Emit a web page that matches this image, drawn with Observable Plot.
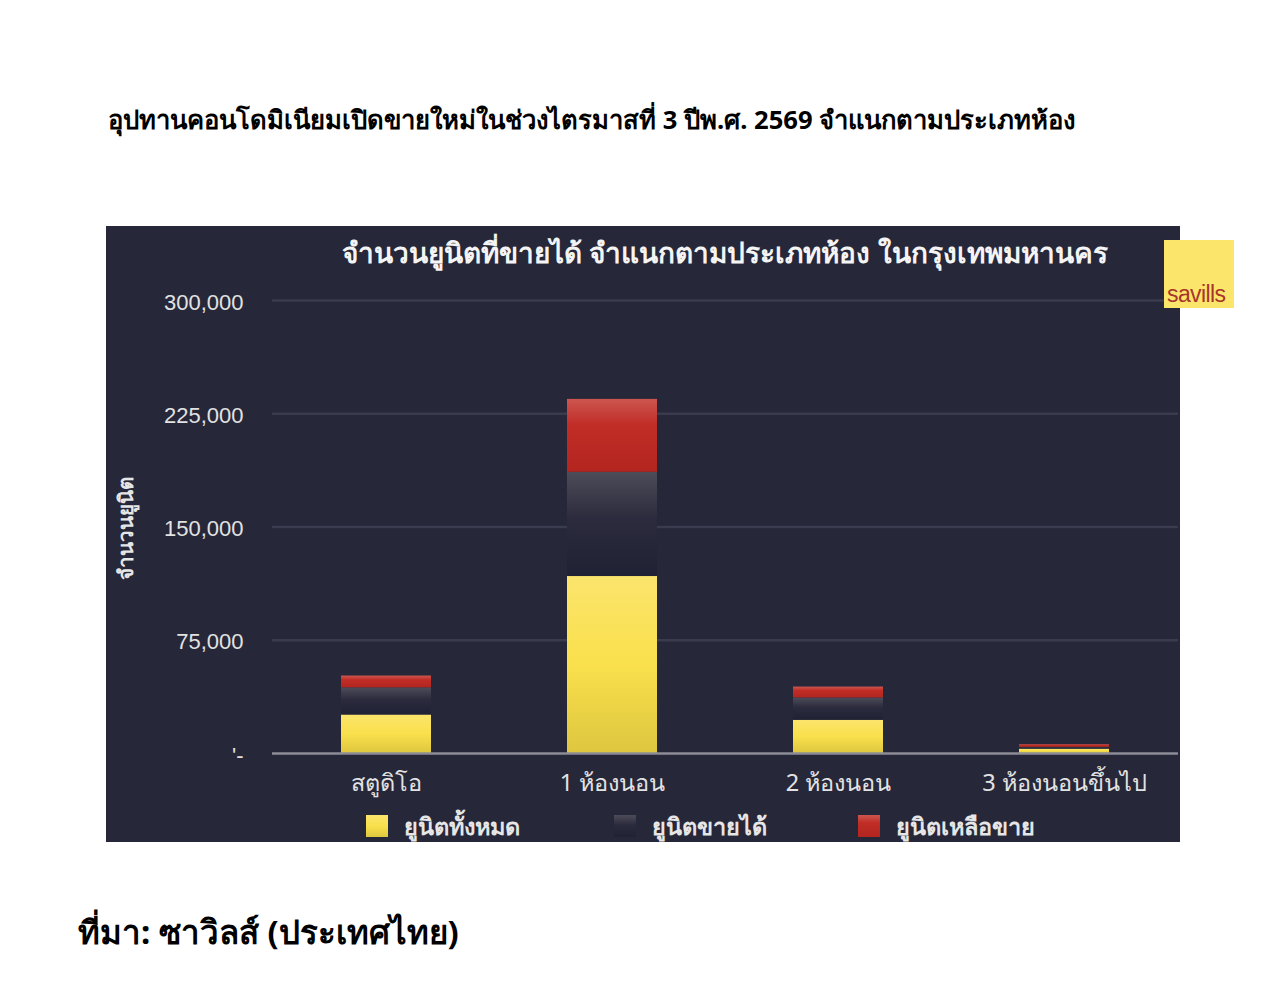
<!DOCTYPE html>
<html>
<head>
<meta charset="utf-8">
<script src="https://cdn.jsdelivr.net/npm/d3@7"></script>
<script src="https://cdn.jsdelivr.net/npm/@observablehq/plot@0.6"></script>
<style>
  html, body { margin: 0; padding: 0; background: #ffffff; }
  body { width: 1284px; height: 996px; position: relative; overflow: hidden; font-family: "Noto Sans", "DejaVu Sans", sans-serif; }
  #title { position: absolute; left: 108px; top: 100px; font-size: 25.6px; font-weight: 700; color: #000; white-space: nowrap; }
  #panel { position: absolute; left: 106px; top: 226px; width: 1074px; height: 616px; background: #262739; }
  #subtitle { position: absolute; left: 225px; width: 1000px; top: 231px; text-align: center; font-size: 28px; font-weight: 700; color: #f4f4f4; white-space: nowrap; }
  #ylabel { position: absolute; left: 125px; top: 528px; transform: translate(-50%, -50%) rotate(-90deg); font-size: 20.5px; font-weight: 700; color: #e6e6e6; white-space: nowrap; }
  .leg { position: absolute; top: 812px; height: 28px; display: flex; align-items: center; font-size: 23.5px; font-weight: 700; color: #e6e6e6; white-space: nowrap; }
  .sw { width: 22px; height: 22px; margin-right: 16px; }
  #logo { position: absolute; left: 1164px; top: 240px; width: 70px; height: 68px; background: #fbe66b; }
  #logo span { position: absolute; left: 3px; bottom: 0px; font-family: "Liberation Sans", Arial, sans-serif; font-size: 23px; color: #a8352b; letter-spacing: -0.6px; }
  #caption { position: absolute; left: 78px; top: 906px; font-size: 33px; font-weight: 700; color: #000; white-space: nowrap; }
</style>
</head>
<body>
<div id="title"></div>
<div id="panel"></div>
<div id="subtitle"></div>
<div id="ylabel"></div>
<div id="legend"></div>
<div id="logo"><span>savills</span></div>
<div id="caption"></div>
<script>
// ---- data ----
const titleText = "อุปทานคอนโดมิเนียมเปิดขายใหม่ในช่วงไตรมาสที่ 3 ปีพ.ศ. 2569 จำแนกตามประเภทห้อง";
const subtitleText = "จำนวนยูนิตที่ขายได้ จำแนกตามประเภทห้อง ในกรุงเทพมหานคร";
const yLabelText = "จำนวนยูนิต";
const captionText = "ที่มา: ซาวิลส์ (ประเทศไทย)";
const categories = ["สตูดิโอ", "1 ห้องนอน", "2 ห้องนอน", "3 ห้องนอนขึ้นไป"];
const seriesNames = ["ยูนิตทั้งหมด", "ยูนิตขายได้", "ยูนิตเหลือขาย"];
const totalUnits = [25500, 117200, 22000, 2900];
const soldUnits = [18000, 69000, 14800, 1200];
const remainingUnits = [7800, 48300, 7200, 1700];
const yTicks = [0, 75000, 150000, 225000, 300000];

// ---- table ----
const seriesValues = [totalUnits, soldUnits, remainingUnits];
const rows = [];
categories.forEach((c, i) => {
  seriesNames.forEach((s, j) => rows.push({cat: c, series: s, value: seriesValues[j][i]}));
});

const gradIds = ["gYellow", "gDark", "gRed"];
const gradStops = [
  [["0%", "#fbe46c"], ["50%", "#f9e04c"], ["100%", "#dec63f"]],
  [["0%", "#4c4c59"], ["45%", "#2b2b3d"], ["100%", "#212135"]],
  [["0%", "#cd5650"], ["35%", "#c12d27"], ["100%", "#b3251f"]]
];

const chart = Plot.plot({
  width: 1074,
  height: 616,
  marginTop: 74,
  marginBottom: 89,
  marginLeft: 166,
  marginRight: 2,
  style: {background: "transparent", color: "#e4e4e4", fontFamily: "'Noto Sans', 'DejaVu Sans', sans-serif"},
  x: {domain: categories, paddingInner: 0.6, paddingOuter: 0.3, label: null},
  y: {domain: [0, 300000], label: null},
  color: {domain: seriesNames, range: gradIds.map(id => `url(#${id})`)},
  marks: [
    Plot.gridY(yTicks.filter(d => d > 0), {stroke: "#3a3b4e", strokeWidth: 2.5, strokeOpacity: 1}),
    Plot.barY(rows, {x: "cat", y: "value", fill: "series"}),
    Plot.ruleY([0], {stroke: "#8d8d97", strokeWidth: 2.5}),
    Plot.axisY({ticks: yTicks, tickSize: 0, tickPadding: 29, dy: 2, fontSize: 22, fontFamily: "'Liberation Sans', Arial, sans-serif", fill: "#e2e2e2", tickFormat: d => d === 0 ? "'-" : d3.format(",")(d), label: null}),
    Plot.axisX({tickSize: 0, tickPadding: 21, fontSize: 23.5, fill: "#e2e2e2", label: null})
  ]
});

const defs = d3.select(chart).insert("defs", ":first-child");
gradIds.forEach((id, k) => {
  const g = defs.append("linearGradient").attr("id", id).attr("x1", 0).attr("y1", 0).attr("x2", 0).attr("y2", 1);
  gradStops[k].forEach(([o, c]) => g.append("stop").attr("offset", o).attr("stop-color", c));
});
document.getElementById("panel").appendChild(chart);

document.getElementById("title").textContent = titleText;
document.getElementById("subtitle").textContent = subtitleText;
document.getElementById("ylabel").textContent = yLabelText;
document.getElementById("caption").textContent = captionText;

const legendX = [366, 614, 858];
const legend = document.getElementById("legend");
seriesNames.forEach((s, k) => {
  const item = document.createElement("div");
  item.className = "leg";
  item.style.left = legendX[k] + "px";
  const sw = document.createElement("div");
  sw.className = "sw";
  sw.style.background = `linear-gradient(to bottom, ${gradStops[k].map(([o, c]) => c + " " + o).join(", ")})`;
  const t = document.createElement("span");
  t.textContent = s;
  item.appendChild(sw);
  item.appendChild(t);
  legend.appendChild(item);
});
</script>
</body>
</html>
